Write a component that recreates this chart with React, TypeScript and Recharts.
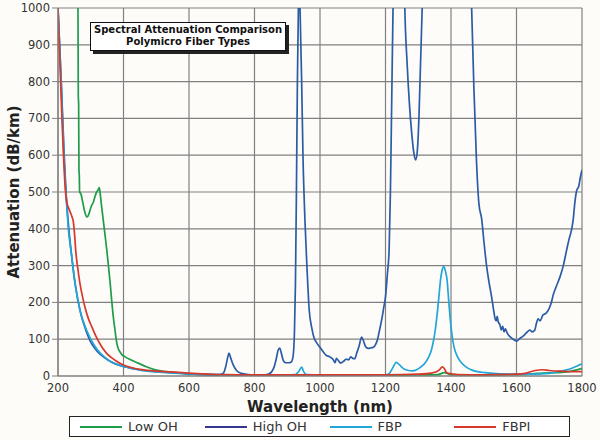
import { LineChart, Line, XAxis, YAxis, CartesianGrid } from 'recharts';

// Low OH
const lowOhNm = [258, 261, 262, 263, 264, 265, 266, 270, 276, 282, 288, 292, 297, 302, 308, 313, 318, 322, 326, 329, 332, 336, 340, 344, 349, 354, 359, 364, 369, 374, 379, 384, 389, 395, 405, 420, 445, 470, 500, 530, 560, 600, 650, 700, 800, 900, 1000, 1100, 1200, 1300, 1360, 1380, 1400, 1450, 1500, 1600, 1650, 1680, 1720, 1760, 1800];
const lowOhDb = [1200, 1000, 760, 740, 560, 545, 500, 495, 470, 445, 432, 435, 448, 462, 472, 488, 500, 505, 512, 495, 470, 440, 410, 380, 342, 300, 255, 205, 160, 125, 92, 74, 66, 58, 52, 45, 35, 25, 16, 12, 9, 6, 4, 3, 2, 2, 2, 2, 2, 3, 4, 9, 4, 3, 3, 4, 6, 8, 9, 12, 21];

// High OH
const highOhNm = [200, 210, 218, 226, 232, 240, 250, 260, 270, 280, 290, 300, 315, 330, 350, 375, 400, 450, 500, 550, 600, 650, 690, 705, 712, 718, 722, 727, 735, 745, 760, 780, 800, 830, 845, 858, 866, 872, 877, 882, 888, 895, 905, 912, 918, 922, 925, 928, 931, 934, 936, 939, 944, 948, 954, 960, 967, 975, 982, 990, 998, 1008, 1018, 1030, 1040, 1046, 1050, 1056, 1063, 1072, 1080, 1087, 1094, 1100, 1106, 1112, 1119, 1127, 1133, 1139, 1147, 1154, 1163, 1170, 1176, 1180, 1185, 1190, 1195, 1200, 1206, 1211, 1215, 1219, 1223, 1228, 1245, 1255, 1259, 1266, 1273, 1280, 1286, 1292, 1297, 1302, 1307, 1312, 1317, 1390, 1458, 1463, 1470, 1478, 1485, 1494, 1500, 1509, 1516, 1524, 1530, 1534, 1538, 1541, 1544, 1549, 1554, 1558, 1562, 1566, 1570, 1575, 1580, 1590, 1600, 1610, 1621, 1630, 1641, 1648, 1656, 1660, 1666, 1672, 1681, 1690, 1702, 1708, 1712, 1720, 1733, 1743, 1753, 1760, 1768, 1773, 1778, 1784, 1790, 1795, 1800];
const highOhDb = [1000, 800, 620, 480, 410, 340, 265, 210, 168, 138, 112, 92, 72, 58, 45, 33, 26, 17, 12, 9, 6, 4, 3, 8, 25, 50, 62, 50, 30, 15, 7, 4, 3, 3, 6, 20, 45, 70, 76, 62, 42, 36, 36, 38, 55, 120, 250, 500, 800, 1000, 1080, 1000, 800, 600, 424, 300, 180, 130, 103, 90, 80, 68, 57, 52, 45, 36, 48, 42, 35, 40, 46, 44, 52, 48, 47, 62, 80, 106, 95, 80, 75, 76, 78, 86, 100, 117, 138, 161, 188, 215, 280, 342, 500, 750, 1000, 1200, 1400, 1200, 1000, 850, 740, 660, 610, 587, 610, 700, 850, 1000, 1200, 1600, 1200, 1000, 780, 580, 470, 424, 370, 297, 255, 215, 180, 158, 150, 162, 148, 140, 125, 135, 120, 128, 120, 112, 107, 100, 95, 102, 109, 117, 125, 120, 125, 140, 155, 150, 166, 170, 188, 205, 220, 240, 270, 300, 342, 370, 397, 424, 470, 505, 515, 540, 560];

// FBP
const fbpNm = [200, 210, 218, 226, 231, 242, 252, 267, 287, 313, 354, 404, 450, 500, 550, 600, 700, 800, 900, 925, 935, 944, 950, 958, 1000, 1100, 1200, 1211, 1222, 1233, 1243, 1255, 1270, 1282, 1295, 1310, 1322, 1332, 1340, 1347, 1352, 1358, 1363, 1368, 1373, 1378, 1383, 1388, 1393, 1399, 1404, 1409, 1420, 1434, 1450, 1464, 1485, 1505, 1530, 1556, 1600, 1650, 1700, 1728, 1750, 1769, 1785, 1800];
const fbpDb = [1000, 790, 600, 470, 406, 324, 252, 179, 125, 80, 43, 25, 16, 11, 8, 6, 4, 3, 3, 4, 12, 24, 12, 4, 3, 3, 3, 6, 22, 37, 30, 20, 15, 14, 17, 26, 37, 52, 70, 98, 125, 170, 215, 261, 288, 297, 285, 261, 205, 143, 105, 80, 52, 34, 22, 16, 11, 9, 7, 6, 5, 5, 7, 12, 16, 21, 27, 33];

// FBPI
const fbpiNm = [200, 206, 212, 216, 220, 224, 228, 233, 238, 243, 247, 251, 254, 260, 267, 275, 282, 292, 303, 318, 333, 350, 374, 395, 415, 450, 490, 527, 580, 640, 700, 800, 900, 1000, 1100, 1200, 1300, 1340, 1357, 1366, 1373, 1380, 1386, 1393, 1420, 1500, 1600, 1630, 1657, 1678, 1700, 1730, 1760, 1800];
const fbpiDb = [1000, 850, 700, 614, 540, 490, 468, 455, 444, 432, 418, 380, 342, 295, 252, 215, 188, 158, 134, 104, 80, 60, 43, 32, 25, 18, 14, 12, 9, 6, 4, 3, 3, 3, 3, 3, 5, 8, 12, 18, 25, 20, 10, 7, 4, 3, 5, 8, 15, 17, 15, 13, 12, 12];

const xTicks = [200, 400, 600, 800, 1000, 1200, 1400, 1600, 1800];
const yTicks = [0, 100, 200, 300, 400, 500, 600, 700, 800, 900, 1000];

const series = [
  { name: 'Low OH', nm: lowOhNm, db: lowOhDb, color: '#1f9c4a', legendColor: '#1f9c4a' },
  { name: 'High OH', nm: highOhNm, db: highOhDb, color: '#2c5ca6', legendColor: '#35368c' },
  { name: 'FBP', nm: fbpNm, db: fbpDb, color: '#22a5d9', legendColor: '#22a5d9' },
  { name: 'FBPI', nm: fbpiNm, db: fbpiDb, color: '#d8382c', legendColor: '#d8382c' },
];

const font = '"DejaVu Sans", sans-serif';

export default function App() {
  return (
    <div style={{ position: 'relative', width: 600, height: 440, background: '#fdfcf8', fontFamily: font }}>
      <style>{`body{margin:0;background:#fdfcf8}`}</style>
      <LineChart width={600} height={440} margin={{ top: 8, right: 18, left: 0, bottom: 0 }}>
        <CartesianGrid stroke="#808080" strokeWidth={1.2} />
        <XAxis
          type="number"
          dataKey="nm"
          domain={[200, 1800]}
          ticks={xTicks}
          height={64}
          allowDataOverflow
          tick={{ fontSize: 11.5, fill: '#333', fontFamily: font }}
          tickLine={false}
          axisLine={{ stroke: '#808080', strokeWidth: 1.2 }}
          label={{ value: 'Wavelength (nm)', position: 'insideBottom', offset: 28, style: { fontSize: 15, fontWeight: 'bold', fill: '#222', fontFamily: font } }}
        />
        <YAxis
          type="number"
          domain={[0, 1000]}
          ticks={yTicks}
          width={58}
          allowDataOverflow
          tick={{ fontSize: 11.5, fill: '#333', fontFamily: font }}
          tickSize={6}
          tickLine={{ stroke: '#808080' }}
          axisLine={{ stroke: '#808080', strokeWidth: 1.2 }}
          label={{ value: 'Attenuation (dB/km)', angle: -90, position: 'insideLeft', offset: 14, style: { textAnchor: 'middle', fontSize: 15, fontWeight: 'bold', fill: '#222', fontFamily: font } }}
        />
        {series.map((s) => (
          <Line
            key={s.name}
            name={s.name}
            data={s.nm.map((nm, i) => ({ nm, db: s.db[i] }))}
            dataKey="db"
            type="monotone"
            stroke={s.color}
            strokeWidth={1.7}
            dot={false}
            isAnimationActive={false}
          />
        ))}
      </LineChart>

      <div style={{ position: 'absolute', left: 90, top: 22, width: 194, height: 26, background: '#fff', border: '1.5px solid #111', boxShadow: '3px 3px 0 #222', textAlign: 'center', fontSize: 10, fontWeight: 'bold', lineHeight: '12px', paddingTop: 1, color: '#111' }}>
        Spectral Attenuation Comparison<br />Polymicro Fiber Types
      </div>

      <div style={{ position: 'absolute', left: 69, top: 416, width: 499, height: 19, background: '#fff', border: '1.5px solid #222', display: 'flex', alignItems: 'center', fontSize: 13, color: '#333' }}>
        {series.map((s) => (
          <div key={s.name} style={{ display: 'flex', alignItems: 'center', width: 138, paddingLeft: 10, boxSizing: 'border-box' }}>
            <span style={{ display: 'inline-block', width: 42, height: 2, background: s.legendColor, marginRight: 6 }} />
            <span>{s.name}</span>
          </div>
        ))}
      </div>
    </div>
  );
}
